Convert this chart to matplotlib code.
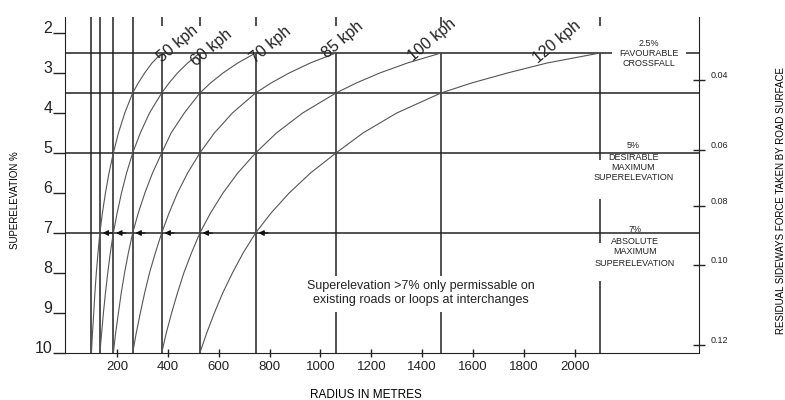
import matplotlib.pyplot as plt

plt.rcParams['font.family'] = ['Liberation Sans', 'DejaVu Sans']

# ---- data ----
speeds = ['50 kph', '60 kph', '70 kph', '85 kph', '100 kph', '120 kph']
e_levels = [10, 9.5, 9, 8.5, 8, 7.5, 7, 6.5, 6, 5.5, 5, 4.5, 4, 3.5, 3.25, 3, 2.75, 2.5]  # superelevation %
radius_50 = [100, 104, 109, 113.5, 119, 125.6, 133, 143, 155, 169, 186, 206, 231, 262, 284, 309, 338, 376]
radius_60 = [133, 140, 147, 155, 164, 174, 186, 201, 218, 238, 262, 292, 328, 376, 405, 438, 478, 526]
radius_70 = [186, 195, 206, 217, 230, 245, 262, 284, 310, 340, 376, 413, 465, 526, 568, 617, 675, 745]
radius_85 = [262, 276, 292, 309, 328, 351, 376, 405, 438, 478, 526, 583, 654, 745, 806, 877, 960, 1061]
radius_100 = [376, 394, 415, 438, 463, 493, 526, 568, 617, 675, 745, 827, 930, 1061, 1141, 1233, 1342, 1474]
radius_120 = [526, 553, 583, 616, 654, 696, 745, 806, 877, 961, 1061, 1167, 1300, 1474, 1594, 1735, 1891, 2099]
curves = [radius_50, radius_60, radius_70, radius_85, radius_100, radius_120]

grid_radius = [100, 133, 186, 262, 376, 526, 745, 1061, 1474, 2099]
level_lines = [2.5, 3.5, 5, 7]
x_ticks = [200, 400, 600, 800, 1000, 1200, 1400, 1600, 1800, 2000]
y_ticks = [2, 3, 4, 5, 6, 7, 8, 9, 10]
force_pos = [3.18, 4.93, 6.33, 7.8, 9.8]
force_labels = ['0.04', '0.06', '0.08', '0.10', '0.12']

# ---- figure ----
fig = plt.figure(figsize=(7.85, 4), dpi=100)
ax = fig.add_axes([65/785, 47/400, 634/785, 336/400])
ax.set_xlim(-4, 2488)
ax.set_ylim(10, 1.6)
ax.spines['top'].set_visible(False)
ax.spines['right'].set_visible(False)
ax.spines['left'].set_color('#222')
ax.spines['bottom'].set_color('#222')

line_c = '#222222'
# vertical radius lines (some broken for labels / notes)
gaps = {7: [(8.08, 8.98)], 8: [(8.08, 8.98)], 9: [(5.18, 6.15), (7.25, 8.2)]}
for i, r in enumerate(grid_radius):
    top = 1.6 if i < 4 else 2.5
    if i >= 4:
        ax.vlines(r, 1.6, 1.83, color=line_c, lw=1.1)
    pieces = []
    start = top
    for g0, g1 in gaps.get(i, []):
        pieces.append((start, g0))
        start = g1
    pieces.append((start, 10))
    for a, b in pieces:
        ax.vlines(r, a, b, color=line_c, lw=1.1)

# horizontal superelevation lines
for e in level_lines:
    if e == 2.5:
        ax.hlines(e, -4, 2146, color=line_c, lw=1.1)
        ax.hlines(e, 2437, 2488, color=line_c, lw=1.1)
    else:
        ax.hlines(e, -4, 2488, color=line_c, lw=1.1)

# speed curves
label_pos = [(440, 2.27), (574, 2.37), (805, 2.3), (1088, 2.17), (1438, 2.17), (1929, 2.22)]
for rad, name, (lx, ly) in zip(curves, speeds, label_pos):
    ax.plot(rad, e_levels, color='#555555', lw=0.8)
    ax.text(lx, ly, name, rotation=40, rotation_mode='anchor', ha='center', va='center',
            fontsize=11.5, color='#222')
    # small arrowhead at the 7% line
    r7 = rad[e_levels.index(7)]
    ax.annotate('', xy=(r7, 7), xytext=(9, 0), textcoords='offset points',
                arrowprops=dict(arrowstyle='-|>', color='#111', lw=0.9,
                                mutation_scale=8, shrinkA=0, shrinkB=2))

# axis ticks
ax.set_yticks(y_ticks)
ax.set_yticklabels([str(v) for v in y_ticks])
ax.tick_params(axis='y', direction='out', length=8.6, width=1, pad=0.5,
               labelsize=11.5, colors='#222')
for lbl in ax.get_yticklabels():
    lbl.set_va('baseline')
ax.set_xticks(x_ticks)
ax.tick_params(axis='x', direction='inout', length=6, width=1, pad=3,
               labelsize=9.5, colors='#222')

# right-hand force scale
ax2 = ax.twinx()
ax2.set_ylim(10, 1.6)
ax2.set_yticks(force_pos)
ax2.set_yticklabels(force_labels)
ax2.tick_params(axis='y', direction='inout', length=8.6, width=1, pad=4,
                labelsize=6.5, colors='#222')
for lbl in ax2.get_yticklabels():
    lbl.set_va('bottom')
for s in ['top', 'left', 'bottom']:
    ax2.spines[s].set_visible(False)
ax2.spines['right'].set_color('#222')

# notes
small = dict(fontsize=6.5, ha='center', va='center', color='#222')
ax.text(2290, 2.25, '2.5%', **small)
ax.text(2290, 2.5, 'FAVOURABLE', **small)
ax.text(2290, 2.77, 'CROSSFALL', **small)
ax.text(2230, 4.8, '5%', **small)
ax.text(2230, 5.1, 'DESIRABLE', **small)
ax.text(2230, 5.37, 'MAXIMUM', **small)
ax.text(2230, 5.62, 'SUPERELEVATION', **small)
ax.text(2235, 6.92, '7%', **small)
ax.text(2235, 7.2, 'ABSOLUTE', **small)
ax.text(2235, 7.47, 'MAXIMUM', **small)
ax.text(2235, 7.75, 'SUPERELEVATION', **small)
ax.text(1395, 8.5, 'Superelevation >7% only permissable on\nexisting roads or loops at interchanges',
        fontsize=9, ha='center', va='center', color='#222', linespacing=1.15)

fig.text(15/785, 0.5, 'SUPERELEVATION %', rotation=90, fontsize=7, ha='center', va='center')
fig.text(781/785, 0.5, 'RESIDUAL SIDEWAYS FORCE TAKEN BY ROAD SURFACE', rotation=90,
         fontsize=7, ha='center', va='center')
fig.text(366/785, 1 - 395/400, 'RADIUS IN METRES', fontsize=8.5, ha='center', va='center')

fig.savefig('out.png', dpi=100)
